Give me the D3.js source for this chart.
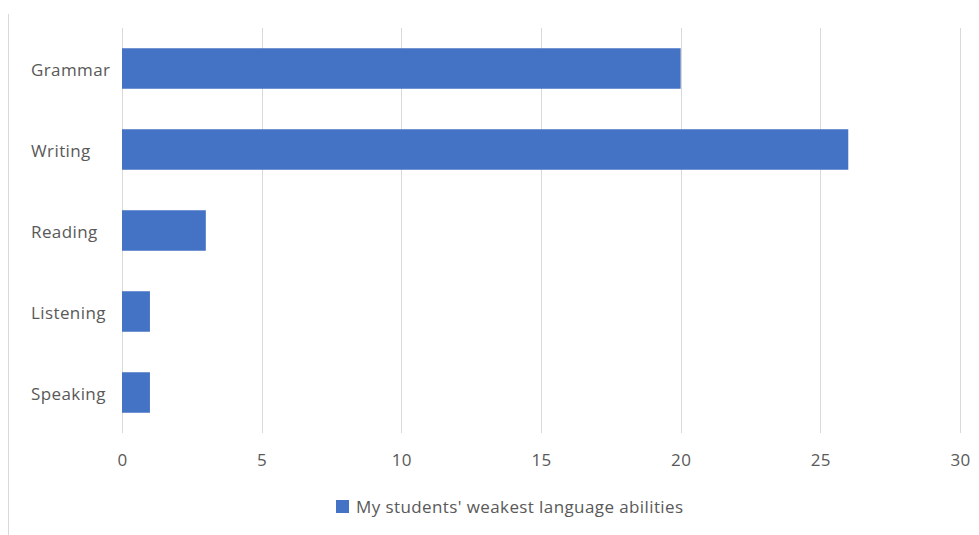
<!DOCTYPE html>
<html>
<head>
<meta charset="utf-8">
<script src="https://cdn.jsdelivr.net/npm/d3@7"></script>
<style>
  html, body { margin: 0; padding: 0; background: #fff; }
  svg { display: block; }
  text { font-family: "Open Sans", sans-serif; fill: #595959; }
</style>
</head>
<body>
<svg id="chart" width="979" height="535"></svg>
<script>
const categories = ["Grammar", "Writing", "Reading", "Listening", "Speaking"];
const values = [20, 26, 3, 1, 1];
const xTicks = [0, 5, 10, 15, 20, 25, 30];
const seriesName = "My students' weakest language abilities";

const svg = d3.select("#chart");
const W = 979, H = 535;
const plot = { left: 122, right: 960, top: 28, bottom: 433 };
const fontSize = "17px";
const spacing = "0.4px";

// frame line at left
svg.append("line")
  .attr("x1", 8.5).attr("x2", 8.5).attr("y1", 14).attr("y2", H)
  .attr("stroke", "#d9d9d9").attr("stroke-width", 1);

const x = d3.scaleLinear().domain([0, 30]).range([plot.left, plot.right]);
const y = d3.scaleBand().domain(categories).range([plot.top, plot.bottom]).paddingInner(0.5).paddingOuter(0.25);

// grid
svg.append("g").selectAll("line").data(xTicks).join("line")
  .attr("x1", d => Math.round(x(d)) + 0.5).attr("x2", d => Math.round(x(d)) + 0.5)
  .attr("y1", plot.top).attr("y2", plot.bottom)
  .attr("stroke", "#d9d9d9").attr("stroke-width", 1);

// bars
svg.append("g").selectAll("rect").data(categories).join("rect")
  .attr("x", x(0))
  .attr("y", d => y(d))
  .attr("width", (d, i) => x(values[i]) - x(0))
  .attr("height", y.bandwidth())
  .attr("fill", "#4472c4");

// x axis tick labels
const xAxis = d3.axisBottom(x).tickValues(xTicks).tickSize(0).tickPadding(0);
const gx = svg.append("g").attr("transform", `translate(0, ${plot.bottom})`).call(xAxis);
gx.select(".domain").remove();
gx.selectAll("text")
  .attr("y", 27).attr("dy", "0.35em")
  .style("font-family", "'Open Sans', sans-serif")
  .style("font-size", fontSize)
  .style("letter-spacing", spacing)
  .attr("fill", "#595959");

// y axis labels (left aligned)
const yAxis = d3.axisLeft(y).tickSize(0);
const gy = svg.append("g").attr("transform", `translate(${plot.left}, 0)`).call(yAxis);
gy.select(".domain").remove();
gy.selectAll("text")
  .attr("x", 31 - plot.left)
  .attr("y", 1.5)
  .attr("text-anchor", "start")
  .attr("dy", "0.35em")
  .style("font-family", "'Open Sans', sans-serif")
  .style("font-size", fontSize)
  .style("letter-spacing", spacing)
  .attr("fill", "#595959");

// legend
const lg = svg.append("g");
lg.append("rect").attr("x", 336).attr("y", 500).attr("width", 13).attr("height", 13).attr("fill", "#4472c4");
lg.append("text").attr("x", 356).attr("y", 507).attr("dy", "0.35em")
  .style("font-size", fontSize)
  .style("letter-spacing", spacing)
  .text(seriesName);
</script>
</body>
</html>
